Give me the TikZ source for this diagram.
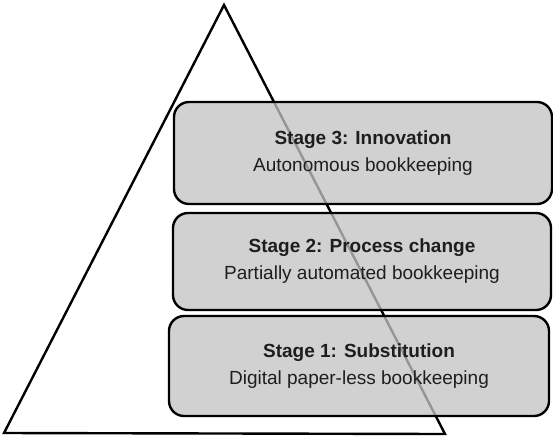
\documentclass[tikz,border=0pt]{standalone}
\usepackage{fontspec}
\setmainfont{Liberation Sans}
\definecolor{boxfill}{RGB}{195,195,195}
\definecolor{txt}{RGB}{30,30,30}
\begin{document}
\begin{tikzpicture}[x=1pt,y=-1pt,
  stagebox/.style={draw=black, line width=2.4pt, fill=boxfill, fill opacity=0.77, text opacity=1,
    rounded corners=15pt, inner sep=0pt, align=center, text=txt,
    font=\fontsize{19}{27}\selectfont}]
\useasboundingbox (0,0) rectangle (553,439);
\coordinate (apex) at (224,5);
\coordinate (bl) at (4,433);
\coordinate (br) at (445,434);
\draw[line width=2.4pt, line join=miter] (apex) -- (bl) -- (br) -- cycle;
\node[stagebox, minimum width=378pt, minimum height=102pt] (s3) at (363,153)
  {\textbf{Stage 3: Innovation}\\Autonomous bookkeeping};
\node[stagebox, minimum width=378pt, minimum height=97pt] (s2) at (362,261.5)
  {\textbf{Stage 2: Process change}\\Partially automated bookkeeping};
\node[stagebox, minimum width=380pt, minimum height=100pt] (s1) at (359,366)
  {\textbf{Stage 1: Substitution}\\Digital paper-less bookkeeping};
\end{tikzpicture}
\end{document}
